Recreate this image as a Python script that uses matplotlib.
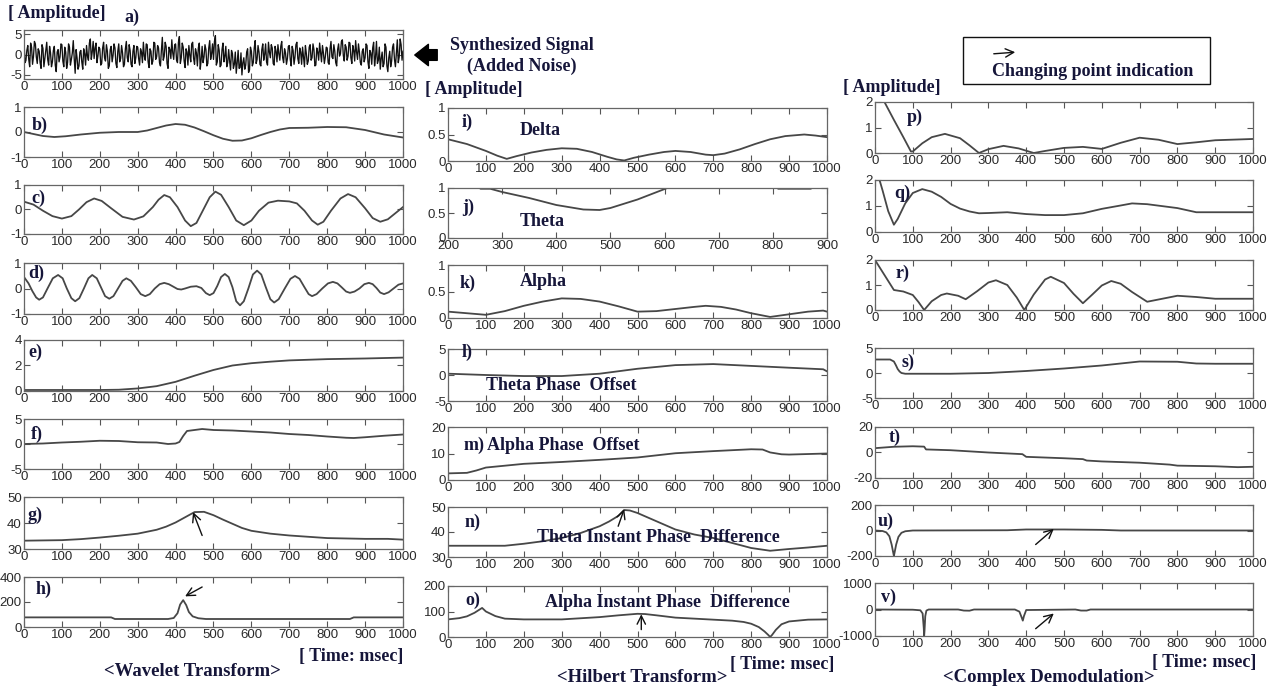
import matplotlib.pyplot as plt
from matplotlib.patches import Rectangle, FancyArrowPatch

# ---- data (x in msec) ----
# noisy synthesized signal: values at 0, 5, 10 ... and at 2.5, 7.5, 12.5 ...
sig_y = [3.5, -1.5, 2.2, -3.0, 1.8, -0.5, 2.6, -2.2, 0.8, -3.4, 1.5, -1.0, 3.0, -2.6, 0.4, -1.8, 2.0, -4.2, 1.2, -0.6,
         2.4, -3.0, 0.6, -2.0, 1.8, -1.2, 3.4, -4.6, -0.8, -2.8, 1.0, -3.6, 0.2, 2.2, -1.4, 3.8, 0.6, -1.0, 2.8, -0.4,
         1.4, -2.2, 3.0, -1.6, 0.8, -2.8, 2.0, -0.2, 1.6, -3.2, 2.6, -1.0, 0.4, -2.4, 3.2, -1.8, 1.0, -3.0, 2.2, -0.8,
         1.8, -2.6, 0.6, 3.0, -1.4, 2.4, -3.2, 0.8, -1.6, 2.8, -0.6, 1.6, -2.8, 4.2, -0.4, 2.0, -3.4, 1.2, 3.6, -1.2,
         2.6, -2.0, 4.4, -0.8, 1.8, -3.2, 0.6, 2.2, -1.8, 3.0, -2.4, 0.4, 1.6, -3.6, 2.0, -0.6, 1.2, -2.2, 3.4, 0.2,
         -1.2, 4.6, -1.8, 1.0, -2.6, 2.8, -0.4, -3.0, 1.2, -3.8, 0.2, -2.4, -4.6, 1.0, -3.2, -5.0, -0.8, -2.6, 1.4, -3.8,
         0.8, -2.0, 3.4, -1.2, 0.6, -2.8, 2.6, 0.0, -1.8, 3.0, -0.8, 1.6, -2.6, 0.8, 2.4, -1.4, 3.2, -2.0, 0.4, -1.0,
         2.2, -2.8, 1.0, -0.6, 3.0, -2.2, 0.6, 1.8, -3.0, 0.2, -1.6, 2.4, -0.8, 1.2, -2.6, 0.6, 2.8, -1.8, 0.4, -0.6,
         1.6, -2.4, 3.2, -1.0, 0.8, -2.8, 2.6, 0.2, 3.6, -1.6, 1.8, -0.4, 2.8, -2.2, 1.0, 3.4, -1.2, 0.6, -2.6, 1.4,
         -0.8, 2.2, -3.4, 0.4, 1.6, -2.8, 3.2, -1.4, -3.6, 0.6, -2.2, 1.8, -4.2, 0.8, -1.6, 2.6, -3.0, 3.6, -0.6, 2.4,
         0.8]
sig_mid = [-2.0, 1.0, -1.2, 2.8, -2.4, 3.2, -0.6, 1.4, -2.0, 2.4, -3.0, 0.8, -1.2, 2.0, -3.0, 1.0, -2.6, 0.6, -1.8, 2.6,
           -1.6, 1.8, -3.4, 2.6, -2.6, 0.4, -1.0, 1.2, -3.6, 0.6, -1.8, 1.4, -2.6, -0.4, 2.8, -1.2, 3.2, 1.6, -2.0, 1.8,
           -2.6, 1.6, -0.8, 2.4, -3.4, 1.2, -1.8, 2.6, -2.2, 0.8, -1.8, 2.2, -3.0, 1.4, -0.8, 2.4, -2.4, 0.8, -2.2, 2.0,
           -1.0, 1.4, -2.0, -0.4, 2.6, -1.8, 1.4, -2.4, 3.0, -1.2, 2.2, -2.0, 1.0, -1.4, 3.0, -2.2, 1.8, -1.0, 0.4, 2.4,
           -1.4, 3.0, -2.2, 2.8, -1.6, 1.4, -2.6, -0.2, 2.6, -1.0, 1.4, -2.8, 2.8, -1.2, -2.0, 2.4, -2.8, 1.6, -1.2, 2.6,
           3.2, -2.6, 2.4, -3.0, 1.2, -1.8, 2.0, -2.0, -1.6, 1.0, -3.4, 0.6, -2.0, -3.4, 0.4, -2.0, -3.6, 0.6, -4.4, 1.8,
           -2.8, 1.6, -2.2, 2.2, -2.4, 1.2, -1.4, 2.6, -2.6, 0.6, 2.4, -2.2, 2.0, -1.8, 0.2, 2.0, -0.8, 1.4, -2.4, 2.0,
           -1.2, 2.0, -2.4, 2.4, -1.0, 1.6, -2.4, -0.6, 2.2, -2.4, 1.8, -1.4, 2.6, -2.8, 1.6, -1.4, 0.4, 2.2, -2.2, 1.8,
           -2.0, 1.4, -0.6, 2.4, -2.0, 1.2, -0.4, 3.2, -0.2, 2.4, -1.4, 3.0, -0.8, 2.2, -1.6, 0.6, 2.6, -2.0, 0.8, -1.8,
           2.6, -1.8, 1.0, -2.4, 3.0, -0.6, -2.2, 1.8, -1.0, -3.0, 2.6, -2.8, -0.8, -3.0, 1.8, -1.2, 0.4, -2.0, 3.8, -1.4]
sig_x = [i * 2.5 for i in range(401)]
sig_all = [v for pair in zip(sig_y[:-1], sig_mid) for v in pair] + [sig_y[-1]]

b_x = [0, 25, 50, 80, 110, 150, 200, 250, 300, 325, 350, 375, 400, 425, 450, 475, 500, 525, 550, 575, 600,
       625, 650, 675, 700, 750, 800, 850, 900, 950, 1000]
b_y = [0.0, -0.08, -0.16, -0.2, -0.17, -0.1, -0.03, 0.0, 0.0, 0.06, 0.16, 0.26, 0.32, 0.29, 0.18, 0.03, -0.13,
       -0.27, -0.35, -0.34, -0.25, -0.12, 0.0, 0.1, 0.16, 0.17, 0.2, 0.19, 0.08, -0.1, -0.22]

c_x = [0, 25, 50, 75, 100, 125, 145, 165, 185, 205, 230, 260, 290, 315, 340, 355, 370, 385, 405, 425, 440,
       455, 470, 490, 505, 520, 540, 560, 580, 600, 620, 645, 670, 700, 720, 740, 760, 775, 790, 810, 835,
       855, 875, 900, 920, 940, 960, 980, 1000]
c_y = [0.32, 0.2, -0.05, -0.27, -0.37, -0.27, 0.0, 0.3, 0.45, 0.35, 0.05, -0.3, -0.41, -0.28, 0.1, 0.4, 0.59,
       0.5, 0.1, -0.45, -0.68, -0.55, -0.1, 0.5, 0.73, 0.6, 0.1, -0.45, -0.64, -0.45, -0.05, 0.28, 0.36, 0.33,
       0.25, -0.05, -0.45, -0.62, -0.5, -0.05, 0.45, 0.63, 0.5, 0.05, -0.35, -0.5, -0.4, -0.15, 0.1]

d_x = [0, 12, 22, 32, 40, 50, 62, 76, 90, 102, 113, 125, 135, 146, 158, 170, 180, 192, 203, 214, 225, 236,
       248, 260, 270, 282, 295, 308, 320, 332, 345, 358, 370, 382, 393, 405, 415, 425, 440, 455, 468, 480,
       490, 500, 510, 520, 530, 540, 550, 560, 570, 580, 592, 604, 615, 626, 638, 650, 660, 672, 688, 703,
       715, 727, 740, 751, 760, 772, 787, 802, 815, 827, 838, 850, 860, 872, 885, 898, 910, 920, 930, 940,
       950, 962, 975, 988, 1000]
d_y = [0.45, 0.2, -0.1, -0.35, -0.44, -0.35, 0.0, 0.4, 0.53, 0.4, 0.0, -0.38, -0.5, -0.38, 0.0, 0.4, 0.53,
       0.4, 0.05, -0.3, -0.4, -0.3, 0.0, 0.3, 0.4, 0.3, 0.05, -0.22, -0.3, -0.22, 0.0, 0.17, 0.22, 0.17, 0.08,
       -0.02, -0.04, 0.0, 0.07, 0.09, 0.02, -0.18, -0.26, -0.18, 0.1, 0.45, 0.57, 0.45, 0.05, -0.5, -0.66,
       -0.5, 0.0, 0.55, 0.7, 0.55, 0.05, -0.42, -0.55, -0.42, 0.0, 0.38, 0.49, 0.38, 0.05, -0.22, -0.3, -0.22,
       0.0, 0.2, 0.26, 0.2, 0.05, -0.12, -0.17, -0.12, 0.0, 0.17, 0.22, 0.17, 0.02, -0.16, -0.22, -0.15, 0.0,
       0.15, 0.2]

e_x = [0, 100, 200, 250, 300, 350, 400, 450, 500, 550, 600, 650, 700, 800, 900, 1000]
e_y = [0.08, 0.08, 0.08, 0.1, 0.2, 0.38, 0.72, 1.2, 1.65, 2.0, 2.18, 2.3, 2.4, 2.5, 2.55, 2.62]

f_x = [0, 50, 100, 150, 200, 250, 300, 350, 380, 400, 410, 420, 430, 450, 470, 500, 550, 600, 650, 700, 750,
       800, 850, 870, 900, 950, 1000]
f_y = [0.0, 0.1, 0.3, 0.45, 0.65, 0.6, 0.35, 0.3, 0.0, 0.1, 0.4, 1.6, 2.6, 2.8, 3.0, 2.8, 2.7, 2.5, 2.3, 2.0,
       1.8, 1.5, 1.25, 1.2, 1.35, 1.65, 1.9]

g_x = [0, 100, 150, 200, 250, 300, 350, 375, 400, 425, 450, 475, 500, 525, 550, 575, 600, 650, 700, 800, 900,
       960, 1000]
g_y = [33.2, 33.4, 33.8, 34.4, 35.1, 35.9, 37.4, 38.6, 40.2, 42.2, 44.2, 44.3, 43.0, 41.3, 39.7, 38.1, 37.0,
       35.9, 35.2, 34.2, 33.9, 33.9, 33.6]

h_x = [0, 230, 240, 380, 395, 405, 412, 420, 428, 435, 445, 460, 480, 860, 870, 1000]
h_y = [77, 77, 64, 64, 72, 110, 180, 215, 175, 120, 85, 70, 64, 64, 77, 77]

i_x = [0, 50, 100, 130, 155, 180, 220, 260, 300, 340, 380, 420, 445, 465, 490, 530, 570, 600, 640, 680, 700,
       730, 770, 810, 850, 890, 940, 970, 1000]
i_y = [0.41, 0.32, 0.19, 0.1, 0.04, 0.09, 0.16, 0.21, 0.24, 0.23, 0.17, 0.08, 0.03, 0.01, 0.06, 0.12, 0.17,
       0.19, 0.17, 0.12, 0.11, 0.14, 0.22, 0.32, 0.41, 0.47, 0.5, 0.48, 0.45]

j_x = [200, 230, 255, 260, 278, 300, 350, 400, 450, 480, 500, 550, 605, 640, 700, 760, 800, 810, 870, 880, 900]
j_y = [1.3, 1.12, 1.04, 0.985, 0.985, 0.92, 0.8, 0.66, 0.57, 0.56, 0.6, 0.77, 1.0, 1.15, 1.3, 1.15, 1.06, 0.985,
       0.985, 1.06, 1.1]

k_x = [0, 50, 100, 150, 200, 250, 300, 350, 400, 450, 500, 550, 600, 650, 680, 720, 760, 800, 850, 900, 950,
       990, 1000]
k_y = [0.12, 0.09, 0.06, 0.13, 0.23, 0.31, 0.37, 0.36, 0.31, 0.22, 0.12, 0.13, 0.17, 0.21, 0.23, 0.21, 0.16,
       0.09, 0.02, 0.07, 0.12, 0.14, 0.12]

l_x = [0, 100, 200, 300, 400, 500, 600, 700, 800, 900, 990, 1000]
l_y = [0.25, 0.0, -0.2, -0.2, 0.25, 1.2, 1.9, 2.1, 1.75, 1.4, 1.1, 0.7]

m_x = [0, 50, 75, 100, 150, 200, 300, 400, 500, 600, 700, 800, 830, 850, 880, 900, 1000]
m_y = [2.5, 2.7, 3.6, 4.7, 5.4, 6.1, 6.8, 7.6, 8.5, 10.1, 10.9, 11.6, 11.5, 10.4, 9.7, 9.6, 10.0]

n_x = [0, 150, 200, 250, 300, 350, 400, 425, 450, 465, 480, 500, 550, 600, 650, 700, 750, 800, 850, 900, 950,
       1000]
n_y = [34.5, 34.5, 35.3, 36.3, 37.6, 39.6, 42.3, 44.2, 46.5, 48.8, 48.6, 47.6, 44.3, 41.0, 39.0, 37.6, 35.6,
       33.6, 32.5, 33.2, 33.8, 34.5]

o_x = [0, 30, 50, 70, 90, 100, 125, 150, 200, 300, 400, 450, 500, 520, 550, 600, 700, 750, 780, 800, 820, 835,
       845, 850, 855, 865, 880, 900, 950, 1000]
o_y = [69, 74, 81, 95, 114, 100, 82, 72, 69, 69, 78, 85, 91, 90, 85, 76, 68, 64, 59, 52, 39, 22, 8, 0, 8, 28,
       50, 61, 68, 69]

p_x = [0, 25, 50, 75, 95, 100, 125, 150, 185, 225, 250, 275, 300, 340, 380, 420, 450, 500, 550, 600, 650,
       700, 750, 800, 850, 900, 1000]
p_y = [2.8, 2.0, 1.3, 0.62, 0.06, 0.06, 0.38, 0.62, 0.75, 0.58, 0.3, 0.0, 0.15, 0.28, 0.18, 0.0, 0.08, 0.2,
       0.24, 0.16, 0.4, 0.6, 0.52, 0.35, 0.42, 0.5, 0.55]

q_x = [0, 12, 20, 35, 50, 60, 80, 100, 125, 150, 175, 200, 225, 250, 275, 300, 350, 400, 450, 500, 550, 600,
       650, 680, 720, 800, 850, 900, 1000]
q_y = [2.6, 2.0, 1.6, 0.8, 0.28, 0.5, 1.1, 1.5, 1.65, 1.55, 1.35, 1.08, 0.9, 0.79, 0.72, 0.73, 0.76, 0.69,
       0.65, 0.65, 0.72, 0.89, 1.02, 1.1, 1.07, 0.92, 0.76, 0.76, 0.76]

r_x = [0, 25, 50, 75, 100, 115, 130, 150, 175, 190, 220, 240, 270, 300, 320, 350, 375, 395, 420, 450, 465,
       500, 525, 550, 575, 600, 625, 650, 680, 720, 750, 800, 850, 900, 1000]
r_y = [2.0, 1.4, 0.8, 0.74, 0.6, 0.32, 0.0, 0.35, 0.6, 0.66, 0.57, 0.43, 0.75, 1.1, 1.19, 1.0, 0.5, 0.0, 0.62,
       1.22, 1.33, 1.08, 0.65, 0.27, 0.62, 0.98, 1.16, 1.05, 0.72, 0.33, 0.42, 0.57, 0.52, 0.45, 0.45]

s_x = [0, 40, 50, 55, 60, 65, 70, 80, 200, 300, 400, 500, 600, 700, 800, 850, 900, 1000]
s_y = [2.7, 2.7, 2.3, 1.6, 0.8, 0.3, 0.0, -0.15, -0.15, 0.0, 0.4, 0.9, 1.5, 2.3, 2.25, 1.9, 1.85, 1.85]

t_x = [0, 50, 100, 130, 135, 200, 300, 390, 400, 500, 550, 560, 600, 700, 780, 800, 900, 960, 1000]
t_y = [3.4, 4.5, 4.9, 4.6, 2.4, 1.8, 0.0, -1.3, -3.4, -4.5, -5.2, -6.3, -7.0, -8.0, -9.5, -10.3, -10.8, -11.5,
       -11.2]

u_x = [0, 20, 30, 38, 44, 48, 50, 52, 56, 62, 70, 80, 100, 350, 400, 500, 600, 650, 1000]
u_y = [0, -4, -15, -45, -110, -170, -200, -170, -110, -50, -18, -6, 0, 2, 8, 8, 5, 0, 0]

v_x = [0, 100, 120, 126, 129, 130, 131, 133, 136, 142, 220, 235, 250, 262, 370, 382, 388, 391, 394, 400, 530,
       545, 560, 570, 1000]
v_y = [0, -8, -30, -150, -700, -1000, -800, -250, -40, 0, 0, -40, -45, 0, 0, -80, -300, -420, -250, -20, 0,
       -40, -40, 0, 0]

# ---- style ----
W, H = 1277, 689
LINE = '#474747'
INK = '#16163a'
SERIF = 'Liberation Serif'
XT = list(range(0, 1001, 100))

plt.rcParams['font.family'] = ['Liberation Sans Narrow', 'Liberation Sans', 'DejaVu Sans']
plt.rcParams['axes.unicode_minus'] = False

fig = plt.figure(figsize=(W / 100, H / 100), dpi=100)


def rect(l, t, r, b):
    return [l / W, 1 - b / H, (r - l) / W, (b - t) / H]


def note(ax, x, y, s, size=13):
    ax.text(x, y, s, transform=ax.transAxes, fontsize=size, fontweight='bold',
            family=SERIF, color=INK, va='center')


def panel(box, x, y, ylim, yticks, label, lpos, xlim=(0, 1000), xticks=XT, color=LINE, lw=1.3):
    ax = fig.add_axes(rect(*box))
    ax.plot(x, y, color=color, lw=lw)
    ax.set_xlim(xlim)
    ax.set_ylim(ylim)
    ax.set_xticks(xticks)
    ax.set_yticks(yticks)
    ax.set_yticklabels(['%g' % v for v in yticks])
    ax.tick_params(direction='in', top=True, right=True, length=4, width=0.8,
                   color='#555555', labelcolor='#2a2a2a', labelsize=9.5, pad=1.5)
    for s in ax.spines.values():
        s.set_color('#666666')
        s.set_linewidth(0.9)
    if label:
        note(ax, lpos[0], lpos[1], label)
    return ax


def arrow(ax, tail, head):
    ax.annotate('', xy=head, xytext=tail,
                arrowprops=dict(arrowstyle='->,head_length=0.6,head_width=0.3',
                                color='#111111', lw=1, shrinkA=0, shrinkB=0))


def ftext(x, y, s, size=13, ha='left'):
    fig.text(x / W, 1 - y / H, s, fontsize=size, fontweight='bold', family=SERIF,
             color=INK, ha=ha, va='center')


# column 1: wavelet transform
L1, R1 = 24, 403
panel((L1, 30, R1, 79), sig_x, sig_all, (-6, 6), [-5, 0, 5], None, None, color='#111111', lw=0.95)
panel((L1, 107, R1, 157), b_x, b_y, (-1, 1), [-1, 0, 1], 'b)', (0.02, 0.64))
panel((L1, 185, R1, 234), c_x, c_y, (-1, 1), [-1, 0, 1], 'c)', (0.02, 0.73))
panel((L1, 263, R1, 314), d_x, d_y, (-1, 1), [-1, 0, 1], 'd)', (0.01, 0.8))
panel((L1, 340, R1, 391), e_x, e_y, (0, 4), [0, 2, 4], 'e)', (0.012, 0.75))
panel((L1, 419, R1, 469), f_x, f_y, (-5, 5), [-5, 0, 5], 'f)', (0.017, 0.7))
ax = panel((L1, 497, R1, 549), g_x, g_y, (30, 50), [30, 40, 50], 'g)', (0.01, 0.65))
arrow(ax, (470, 35.2), (446, 44.2))
ax = panel((L1, 577, R1, 627), h_x, h_y, (0, 400), [0, 200, 400], 'h)', (0.03, 0.76))
arrow(ax, (470, 320), (425, 245))

# column 2: Hilbert transform
L2, R2 = 448, 827
ax = panel((L2, 108, R2, 161), i_x, i_y, (0, 1), [0, 0.5, 1], 'i)', (0.037, 0.72))
note(ax, 0.19, 0.58, 'Delta')
ax = panel((L2, 188, R2, 238), j_x, j_y, (0, 1), [0, 0.5, 1], 'j)', (0.037, 0.62),
           xlim=(200, 900), xticks=list(range(200, 901, 100)))
note(ax, 0.19, 0.32, 'Theta')
ax = panel((L2, 265, R2, 318), k_x, k_y, (0, 1), [0, 0.5, 1], 'k)', (0.03, 0.66))
note(ax, 0.19, 0.68, 'Alpha')
ax = panel((L2, 349, R2, 401), l_x, l_y, (-5, 5), [-5, 0, 5], 'l)', (0.037, 0.94))
note(ax, 0.1, 0.3, 'Theta Phase  Offset')
ax = panel((L2, 427, R2, 480), m_x, m_y, (0, 20), [0, 10, 20], 'm)', (0.04, 0.66))
note(ax, 0.103, 0.66, 'Alpha Phase  Offset')
ax = panel((L2, 507, R2, 557), n_x, n_y, (30, 50), [30, 40, 50], 'n)', (0.045, 0.7))
note(ax, 0.235, 0.4, 'Theta Instant Phase  Difference')
arrow(ax, (449, 42.3), (465, 49.2))
ax = panel((L2, 586, R2, 637), o_x, o_y, (0, 200), [0, 100, 200], 'o)', (0.045, 0.72))
note(ax, 0.257, 0.67, 'Alpha Instant Phase  Difference')
arrow(ax, (510, 29), (510, 89))

# column 3: complex demodulation
L3, R3 = 875, 1253
panel((L3, 102, R3, 153), p_x, p_y, (0, 2), [0, 1, 2], 'p)', (0.085, 0.7))
panel((L3, 180, R3, 232), q_x, q_y, (0, 2), [0, 1, 2], 'q)', (0.05, 0.75))
panel((L3, 260, R3, 310), r_x, r_y, (0, 2), [0, 1, 2], 'r)', (0.055, 0.74))
panel((L3, 348, R3, 398), s_x, s_y, (-5, 5), [-5, 0, 5], 's)', (0.07, 0.72))
panel((L3, 427, R3, 478), t_x, t_y, (-20, 20), [-20, 0, 20], 't)', (0.035, 0.8))
ax = panel((L3, 505, R3, 556), u_x, u_y, (-200, 200), [-200, 0, 200], 'u)', (0.008, 0.67))
arrow(ax, (425, -110), (473, 13))
ax = panel((L3, 583, R3, 636), v_x, v_y, (-1000, 1000), [-1000, 0, 1000], 'v)', (0.015, 0.72))
arrow(ax, (425, -725), (473, -150))

# header texts
ftext(8, 14, '[ Amplitude]')
ftext(124, 17, 'a)')
ftext(425, 90, '[ Amplitude]')
ftext(843, 87, '[ Amplitude]')
ftext(522, 45, 'Synthesized Signal', ha='center')
ftext(522, 66, '(Added Noise)', ha='center')
fig.add_artist(FancyArrowPatch(
    (440 / W, 1 - 55 / H), (412 / W, 1 - 55 / H), transform=fig.transFigure,
    arrowstyle='simple,head_length=0.7,head_width=1.1,tail_width=0.55', mutation_scale=14,
    color='#000000'))
fig.add_artist(Rectangle((963 / W, 1 - 84 / H), 247 / W, 47 / H, transform=fig.transFigure,
                         fill=False, edgecolor='#111111', lw=1))
fig.add_artist(FancyArrowPatch(
    (991 / W, 1 - 54 / H), (1018 / W, 1 - 52 / H), transform=fig.transFigure,
    arrowstyle='->,head_length=0.6,head_width=0.3', mutation_scale=10, color='#111111', lw=1))
ftext(992, 71, 'Changing point indication')

# footers
ftext(403, 657, '[ Time: msec]', ha='right')
ftext(834, 665, '[ Time: msec]', ha='right')
ftext(1256, 662, '[ Time: msec]', ha='right')
ftext(192, 672, '<Wavelet Transform>', size=13.5, ha='center')
ftext(642, 678, '<Hilbert Transform>', size=13.5, ha='center')
ftext(1049, 678, '<Complex Demodulation>', size=13.5, ha='center')

fig.savefig('out.png', dpi=100)
